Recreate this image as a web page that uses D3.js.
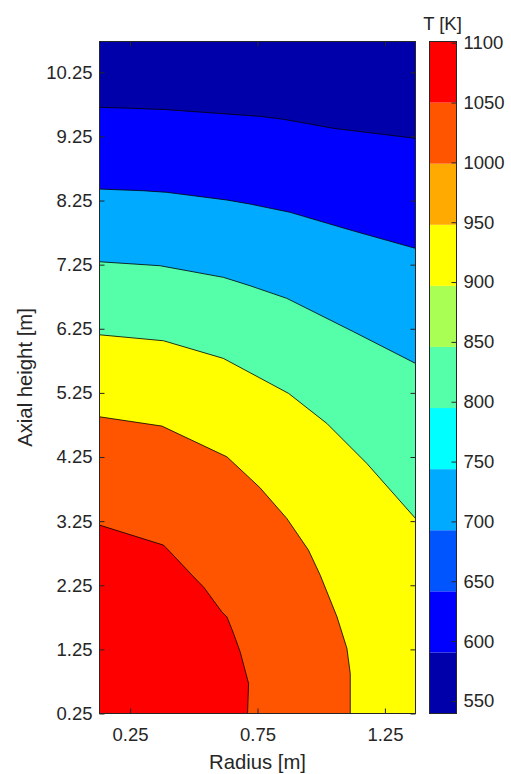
<!DOCTYPE html>
<html>
<head>
<meta charset="utf-8">
<script src="https://cdn.jsdelivr.net/npm/d3@7"></script>
<style>
  body { margin: 0; background: #fff; }
  text { font-family: "Liberation Sans", Arial, sans-serif; fill: #262626; }
</style>
</head>
<body>
<div id="chart"></div>
<script>
// tick values
let xTicks = [0.25, 0.75, 1.25]
let yTicks = [0.25, 1.25, 2.25, 3.25, 4.25, 5.25, 6.25, 7.25, 8.25, 9.25, 10.25]
let cbTicks = [550, 600, 650, 700, 750, 800, 850, 900, 950, 1000, 1050, 1100]

// colorbar bands (bottom -> top)
let cbRange = [539.5, 1101]
let bandColors = ['#0000AA','#0000FF','#0055FF','#00AAFF','#00FFFF','#55FFAA','#AAFF55','#FFFF00','#FFAA00','#FF5500','#FF0000']

// contour lines, [radius, height]
let c600  = [[0.13,9.704],[0.261,9.688],[0.394,9.667],[0.760,9.563],[0.852,9.517],[1.048,9.376],[1.37,9.22]]
let c700  = [[0.13,8.429],[0.301,8.403],[0.394,8.378],[0.630,8.258],[0.721,8.195],[0.878,8.066],[1.114,7.79],[1.37,7.504]]
let c800  = [[0.13,7.295],[0.368,7.233],[0.616,7.052],[0.721,6.921],[0.865,6.724],[1.127,6.203],[1.37,5.71]]
let c900  = [[0.13,6.156],[0.381,6.063],[0.616,5.788],[0.721,5.564],[0.872,5.242],[1.022,4.774],[1.179,4.15],[1.37,3.292]]
let c1000 = [[0.13,4.877],[0.375,4.732],[0.630,4.253],[0.721,3.916],[0.760,3.77],[0.865,3.292],[0.95,2.798],[0.996,2.408],[1.062,1.757],[1.101,1.264],[1.114,0.874],[1.114,0.25]]
let c1100 = [[0.13,3.188],[0.381,2.876],[0.407,2.771],[0.518,2.303],[0.538,2.225],[0.61,1.835],[0.63,1.757],[0.656,1.498],[0.682,1.211],[0.715,0.718],[0.711,0.25]]

let baseColor = '#0000AA'
let contourLines = [c600, c700, c800, c900, c1000, c1100]
let fillColors = ['#0000FF','#00AAFF','#55FFAA','#FFFF00','#FF5500','#FF0000']

let xDomain = [0.13, 1.37],
    yDomain = [0.25, 10.73]

let width = 511, height = 774,
    margin = { left: 99.5, top: 41.5, right: 415.5, bottom: 713.5 },
    cbLeft = 429.5, cbRight = 456.5

let svg = d3.select("#chart").append("svg").attr("width", width).attr("height", height)

let xScale = d3.scaleLinear().domain(xDomain).range([margin.left, margin.right])
let yScale = d3.scaleLinear().domain(yDomain).range([margin.bottom, margin.top])
let cScale = d3.scaleLinear().domain(cbRange).range([margin.bottom, margin.top])

// filled regions
let g = svg.append("g")
g.append("rect")
  .attr("x", xScale(xDomain[0])).attr("y", yScale(yDomain[1]))
  .attr("width", xScale(xDomain[1]) - xScale(xDomain[0]))
  .attr("height", yScale(yDomain[0]) - yScale(yDomain[1]))
  .attr("fill", baseColor)

let line = d3.line().x(d => xScale(d[0])).y(d => yScale(d[1]))

function region(pts){
  let last = pts[pts.length - 1]
  let poly = pts.slice()
  if (last[0] >= xDomain[1]) poly.push([xDomain[1], yDomain[0]])
  poly.push([xDomain[0], yDomain[0]])
  return line(poly) + "Z"
}

contourLines.forEach((pts, i) => {
  g.append("path").attr("d", region(pts)).attr("fill", fillColors[i])
})
contourLines.forEach(pts => {
  g.append("path").attr("d", line(pts)).attr("fill", "none")
    .attr("stroke", "#000").attr("stroke-width", 0.8)
})

// axes
let fs = 18.5
let xAxis = d3.axisBottom(xScale).tickValues(xTicks).tickSizeInner(-5).tickSizeOuter(0).tickPadding(14).tickFormat(d3.format(".2f"))
let yAxis = d3.axisLeft(yScale).tickValues(yTicks).tickSizeInner(-5).tickSizeOuter(0).tickPadding(7).tickFormat(d3.format(".2f"))

svg.append("g").attr("transform", `translate(0,${margin.bottom})`).call(xAxis)
svg.append("g").attr("transform", `translate(${margin.left},0)`).call(yAxis)
svg.append("g").attr("transform", `translate(0,${margin.top})`)
  .call(d3.axisTop(xScale).tickValues(xTicks).tickSizeInner(-5).tickSizeOuter(0).tickFormat(""))
svg.append("g").attr("transform", `translate(${margin.right},0)`)
  .call(d3.axisRight(yScale).tickValues(yTicks).tickSizeInner(-5).tickSizeOuter(0).tickFormat(""))

svg.selectAll(".domain").remove()
svg.selectAll(".tick line").attr("stroke", "#262626")
svg.selectAll(".tick text").attr("font-size", fs).attr("fill", "#262626")
  .style("font-family", '"Liberation Sans", Arial, sans-serif')

svg.append("rect").attr("x", margin.left).attr("y", margin.top)
  .attr("width", margin.right - margin.left).attr("height", margin.bottom - margin.top)
  .attr("fill", "none").attr("stroke", "#262626").attr("stroke-width", 1)

svg.append("text").attr("x", (margin.left + margin.right) / 2).attr("y", 769)
  .attr("text-anchor", "middle").attr("font-size", 20.3).text("Radius [m]")
svg.append("text").attr("transform", `translate(32,${(margin.top + margin.bottom) / 2}) rotate(-90)`)
  .attr("text-anchor", "middle").attr("font-size", 20.3).text("Axial height [m]")

// colorbar
let step = (cbRange[1] - cbRange[0]) / bandColors.length
let cb = svg.append("g")
cb.selectAll("rect").data(bandColors).enter().append("rect")
  .attr("x", cbLeft)
  .attr("y", (d, i) => cScale(cbRange[0] + step * (i + 1)))
  .attr("width", cbRight - cbLeft)
  .attr("height", (d, i) => cScale(cbRange[0] + step * i) - cScale(cbRange[0] + step * (i + 1)))
  .attr("fill", d => d)

let cAxis = d3.axisRight(cScale).tickValues(cbTicks).tickSizeInner(-5).tickSizeOuter(0).tickPadding(7).tickFormat(d3.format("d"))
let cG = svg.append("g").attr("transform", `translate(${cbRight},0)`).call(cAxis)
cG.select(".domain").remove()
cG.selectAll(".tick line").attr("stroke", "#262626")
cG.selectAll(".tick text").attr("font-size", fs).attr("fill", "#262626")
  .style("font-family", '"Liberation Sans", Arial, sans-serif')

svg.append("rect").attr("x", cbLeft).attr("y", margin.top)
  .attr("width", cbRight - cbLeft).attr("height", margin.bottom - margin.top)
  .attr("fill", "none").attr("stroke", "#262626").attr("stroke-width", 1)

svg.append("text").attr("x", 442.5).attr("y", 29.5)
  .attr("text-anchor", "middle").attr("font-size", fs).text("T [K]")
</script>
</body>
</html>
